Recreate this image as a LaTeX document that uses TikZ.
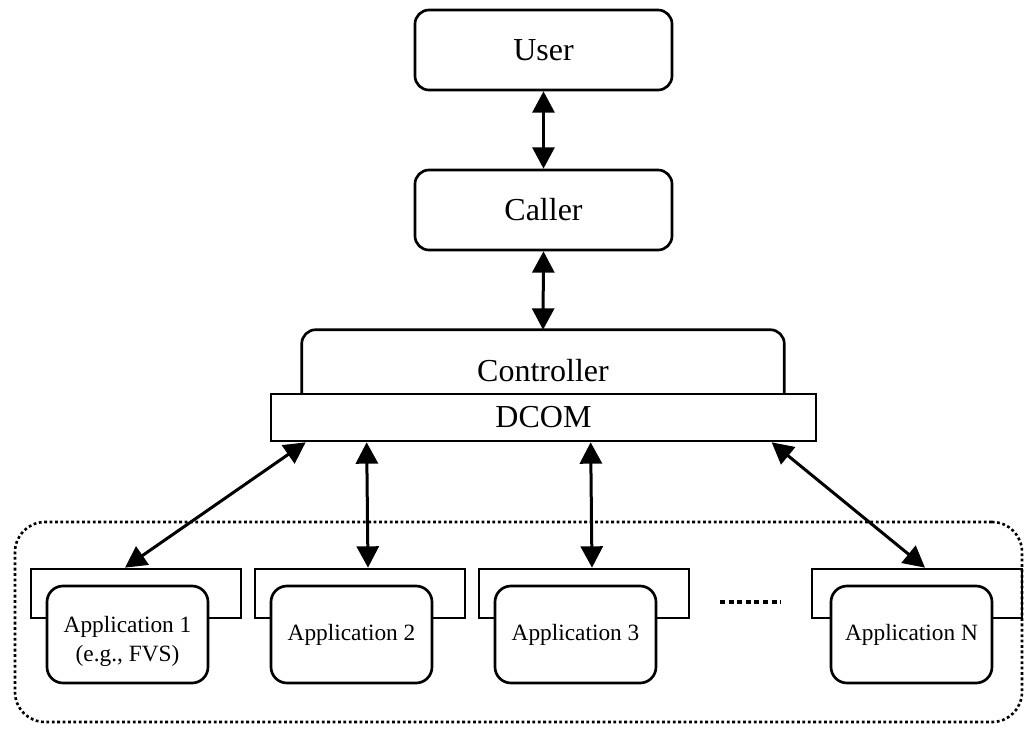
\documentclass[tikz,border=0pt]{standalone}
\usepackage{fontspec}
\setmainfont{Liberation Serif}
\usetikzlibrary{arrows.meta}
\begin{document}
\begin{tikzpicture}[x=0.75pt,y=-0.75pt,
  thick line/.style={line width=2.0pt},
  bigfont/.style={font=\fontsize{24}{28}\selectfont},
  appfont/.style={font=\fontsize{17.5}{21.75}\selectfont},
  rbox/.style={draw, thick line, rounded corners=10.5pt, minimum width=192.75pt,
    minimum height=60pt, inner sep=0pt, bigfont},
  bracket/.style={draw, thick line, minimum width=157.5pt, minimum height=36.75pt, inner sep=0pt},
  appbox/.style={draw, thick line, fill=white, rounded corners=12pt, minimum width=120.75pt,
    minimum height=72.75pt, inner sep=0pt, appfont, align=center},
  arr/.style={line width=2.25pt, {Triangle[length=16pt,width=16.5pt]}-{Triangle[length=16pt,width=16.5pt]}},
  groupbox/.style={draw, line width=1.95pt, dash pattern=on 2.1pt off 1.95pt,
    rounded corners=22.5pt, minimum width=755.25pt, minimum height=150pt, inner sep=0pt},
  dotline/.style={line width=3pt, dash pattern=on 3.75pt off 2.7pt}
]
\useasboundingbox (0,0) rectangle (1026,731);

% group of applications
\node[groupbox] (group) at (518.5,622) {};

% top boxes
\node[rbox] (user) at (543.5,50) {User};
\node[rbox] (caller) at (543.5,210) {Caller};

% controller with DCOM
\node[minimum width=361.5pt, minimum height=48pt, inner sep=0pt] (controller) at (543,362) {};
\draw[thick line, rounded corners=10.5pt] (controller.south west) -- (controller.north west)
  -- (controller.north east) -- (controller.south east);
\node[bigfont, anchor=base, inner sep=0pt] (controllerlabel) at (543,382) {Controller};
\node[draw, thick line, minimum width=408.75pt, minimum height=35.25pt, inner sep=0pt, bigfont]
  (dcom) at (543.5,417.5) {DCOM};

% applications
\node[bracket] (b1) at (136,593.5) {};
\node[appbox] (app1) at (127.5,634.5) {};
\node[appfont, align=center, inner sep=0pt] (app1label) at ([yshift=-5.5pt]app1.center) {Application 1\\(e.g., FVS)};

\node[bracket] (b2) at (360,593.5) {};
\node[appbox] (app2) at (351.5,634.5) {Application 2};

\node[bracket] (b3) at (584,593.5) {};
\node[appbox] (app3) at (575.5,634.5) {Application 3};

\node[bracket] (bN) at (917,593.5) {};
\node[appbox] (appN) at (911.5,634.5) {Application N};

% ellipsis
\coordinate (e1) at (720,602);
\coordinate (e2) at (781,602);
\draw[dotline] (e1) -- (e2);

% connectors
\draw[arr] (user.south) -- (caller.north);
\draw[arr] (caller.south) -- (controller.north);
\draw[arr] ([xshift=27pt]dcom.south west) -- ([xshift=-8.25pt]b1.north);
\draw[arr] ([xshift=72.75pt]dcom.south west) -- ([xshift=6pt]b2.north);
\draw[arr] ([xshift=240.75pt]dcom.south west) -- ([xshift=6pt]b3.north);
\draw[arr] ([xshift=376.5pt]dcom.south west) -- ([xshift=6pt]bN.north);
\end{tikzpicture}
\end{document}
